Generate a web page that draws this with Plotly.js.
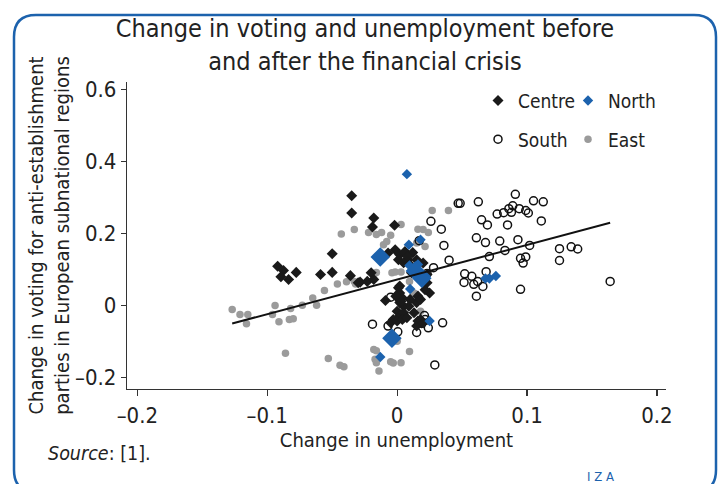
<!DOCTYPE html>
<html>
<head>
<meta charset="utf-8">
<script src="https://cdn.plot.ly/plotly-3.0.1.min.js"></script>
<style>
html,body{margin:0;padding:0;background:#fff;}
#chart{width:719px;height:484px;}
</style>
</head>
<body>
<div id="chart"></div>
<script>
// ---- data ----
const centreX = [-0.035,-0.035,-0.018,-0.019,-0.002,-0.050,-0.092,-0.0875,-0.0895,-0.0836,-0.0777,-0.059,-0.050,-0.036,-0.0285,-0.020,-0.023,-0.018,-0.013,-0.007,-0.0015,0.002,0.006,0.001,0.012,0.015,0.0085,0.005,0.020,0.011,0.023,0.023,0.025,-0.030,
  0.001,0.002,0.004,0.002,0.005,0.000,0.002,-0.003,-0.005,0.000,0.005,0.009,0.013,0.015,0.016,0.018,0.016,0.019,0.015,0.002,0.004,0.0075,0.010,0.018,0.020,0.0215,0.003,-0.001,0.008,0.010,-0.009];
const centreY = [0.304,0.256,0.242,0.217,0.222,0.143,0.108,0.096,0.079,0.071,0.091,0.085,0.091,0.082,0.064,0.090,0.066,0.071,0.143,0.145,0.154,0.140,0.149,0.126,0.146,0.126,0.126,0.118,0.117,0.090,0.085,0.062,0.034,0.062,
  0.048,0.034,0.020,0.007,-0.003,-0.017,-0.030,-0.040,-0.049,-0.044,-0.021,-0.003,-0.021,0.007,0.025,0.016,-0.044,-0.049,-0.058,0.053,-0.040,-0.035,0.016,-0.040,-0.049,0.043,0.011,0.025,0.135,0.112,0.013];

const northX = [0.010,0.0075,0.009,0.018,0.0095,0.016,0.010,-0.013,0.025,0.068,0.071,0.076,0.022];
const northY = [0.630,0.364,0.168,0.182,0.110,0.113,0.045,-0.144,-0.044,0.074,0.074,0.081,0.080];
// larger (more populous) North regions
const northBigX = [-0.013,0.019,0.014,-0.004];
const northBigY = [0.134,0.075,0.095,-0.092];

const southX = [-0.019,-0.005,-0.007,0.0005,0.015,0.021,0.0215,0.024,0.035,0.029,0.026,0.034,0.047,0.036,0.017,0.040,0.028,0.023,0.019,
  0.091,0.0485,0.0625,0.105,0.1125,0.077,0.082,0.086,0.089,0.094,0.099,0.101,0.088,0.065,0.0695,0.085,0.111,0.061,0.068,0.079,0.093,0.102,0.083,0.071,0.095,0.099,0.097,0.125,0.134,0.139,0.125,0.164,0.052,0.0575,0.062,0.059,0.0515,0.066,0.0685,0.061,0.095];
const southY = [-0.053,0.022,-0.058,-0.074,-0.076,-0.029,-0.040,-0.063,-0.049,-0.166,0.233,0.211,0.283,0.166,0.179,0.125,0.104,0.088,-0.051,
  0.308,0.283,0.287,0.290,0.287,0.253,0.257,0.268,0.276,0.268,0.263,0.256,0.258,0.237,0.223,0.223,0.234,0.187,0.174,0.178,0.182,0.166,0.152,0.135,0.130,0.134,0.117,0.157,0.162,0.156,0.124,0.066,0.087,0.080,0.066,0.058,0.063,0.052,0.093,0.025,0.044];

const eastX = [-0.127,-0.121,-0.115,-0.116,-0.096,-0.094,-0.091,-0.082,-0.083,-0.080,-0.073,-0.065,-0.062,-0.056,-0.046,-0.039,-0.033,-0.032,-0.016,-0.018,-0.004,-0.0015,-0.043,-0.033,-0.022,-0.016,-0.012,-0.005,0.003,-0.0105,-0.008,0.027,0.0395,0.016,0.020,0.024,0.015,0.0215,
  -0.086,-0.053,-0.044,-0.041,-0.018,-0.016,-0.017,-0.016,-0.014,-0.005,-0.003,0.003,0.0095,0.000,0.018,0.0095,0.013,0.003];
const eastY = [-0.012,-0.026,-0.026,-0.052,-0.026,-0.001,-0.046,-0.009,-0.040,-0.038,0.000,0.020,0.000,0.041,0.059,0.065,0.066,0.059,0.091,0.074,0.090,0.092,0.198,0.210,0.202,0.196,0.202,0.194,0.224,0.168,0.177,0.263,0.263,0.211,0.210,0.202,0.173,0.163,
  -0.134,-0.148,-0.167,-0.171,-0.123,-0.127,-0.150,-0.160,-0.183,-0.157,-0.161,-0.160,-0.129,-0.100,-0.017,0.066,0.034,0.092];

// fitted line end points
const fitX = [-0.127, 0.164];
const fitY = [-0.051, 0.229];

const xTickVals = [-0.2,-0.1,0,0.1,0.2];
const xTickText = ['\u20130.2','\u20130.1','0','0.1','0.2'];
const yTickVals = [-0.2,0,0.2,0.4,0.6];
const yTickText = ['\u20130.2','0','0.2','0.4','0.6'];

// ---- layout helpers ----
const W = 719, H = 484;
const M = {l:127, r:53, t:82, b:95};
const pw = W - M.l - M.r, ph = H - M.t - M.b;
const fx = px => (px - M.l) / pw;
const fy = py => (H - M.b - py) / ph;

const FONT = '"Liberation Sans Narrow", "DejaVu Sans Condensed", "Arial Narrow", sans-serif';
const BLUE = '#1c62ad';

// rounded frame
const bx0=14, bx1=716, by0=15, by1=492, r=22;
const framePath = [
  'M', fx(bx0+r), fy(by0),
  'L', fx(bx1-r), fy(by0),
  'Q', fx(bx1), fy(by0), fx(bx1), fy(by0+r),
  'L', fx(bx1), fy(by1-r),
  'Q', fx(bx1), fy(by1), fx(bx1-r), fy(by1),
  'L', fx(bx0+r), fy(by1),
  'Q', fx(bx0), fy(by1), fx(bx0), fy(by1-r),
  'L', fx(bx0), fy(by0+r),
  'Q', fx(bx0), fy(by0), fx(bx0+r), fy(by0), 'Z'
].join(' ');

const traces = [
  {x:eastX, y:eastY, name:'East', type:'scatter', mode:'markers', legend:'legend2', legendrank:2,
   marker:{symbol:'circle', size:7.5, color:'#9b9b9b'}},
  {x:southX, y:southY, name:'South', type:'scatter', mode:'markers', legend:'legend2', legendrank:1,
   marker:{symbol:'circle-open', size:8, color:'#111', line:{width:1.5, color:'#111'}}},
  {x:centreX, y:centreY, name:'Centre', type:'scatter', mode:'markers', legend:'legend', legendrank:1,
   marker:{symbol:'diamond', size:8.5, color:'#1a1a1a'}},
  {x:northX, y:northY, name:'North', type:'scatter', mode:'markers', legend:'legend', legendrank:2, cliponaxis:false,
   marker:{symbol:'diamond', size:8, color:BLUE}},
  {x:northBigX, y:northBigY, name:'North', type:'scatter', mode:'markers', showlegend:false,
   marker:{symbol:'diamond', size:15, color:BLUE}},
  {x:fitX, y:fitY, type:'scatter', mode:'lines', showlegend:false, hoverinfo:'skip',
   line:{color:'#111', width:2}}
];

const axisCommon = {
  showgrid:false, zeroline:false, showline:true, linecolor:'#333', linewidth:1.2,
  ticks:'outside', ticklen:6, tickwidth:1.2, tickcolor:'#333',
  tickfont:{family:FONT, size:22, color:'#222'}, automargin:false
};

const layout = {
  width:W, height:H, margin:M,
  paper_bgcolor:'#fff', plot_bgcolor:'#fff',
  font:{family:FONT, color:'#222'},
  showlegend:true,
  title:{text:'Change in voting and unemployment before<br>and after the financial crisis',
    font:{family:FONT, size:25, color:'#222'}, x:365/W, xanchor:'center', y:1-37/H, yanchor:'middle'},
  xaxis:Object.assign({}, axisCommon, {
    range:[-0.208, 0.207], tickvals:xTickVals, ticktext:xTickText,
    title:{text:'Change in unemployment', font:{family:FONT, size:20, color:'#222'}, standoff:6}
  }),
  yaxis:Object.assign({}, axisCommon, {
    range:[-0.233, 0.62], tickvals:yTickVals, ticktext:yTickText, ticklen:5,
    title:{text:'Change in voting for anti-establishment<br>parties in European subnational regions',
      font:{family:FONT, size:20, color:'#222'}, standoff:0}
  }),
  legend:{orientation:'h', x:fx(478), xanchor:'left', y:fy(100.7), yanchor:'middle',
    bgcolor:'rgba(0,0,0,0)', font:{family:FONT, size:19, color:'#222'}, itemsizing:'trace',
    entrywidth:45, entrywidthmode:'pixels', traceorder:'normal'},
  legend2:{orientation:'h', x:fx(478), xanchor:'left', y:fy(139.3), yanchor:'middle',
    bgcolor:'rgba(0,0,0,0)', font:{family:FONT, size:19, color:'#222'}, itemsizing:'trace',
    entrywidth:45, entrywidthmode:'pixels', traceorder:'normal'},
  shapes:[{type:'path', xref:'paper', yref:'paper', path:framePath, layer:'below',
    line:{color:BLUE, width:2.5}, fillcolor:'rgba(0,0,0,0)'}],
  annotations:[
    {text:'<i>Source</i>: [1].', xref:'paper', yref:'paper', x:fx(46), y:fy(453),
     xanchor:'left', yanchor:'middle', showarrow:false, font:{family:FONT, size:19.5, color:'#222'}},
    {text:'I Z A', xref:'paper', yref:'paper', x:fx(600), y:fy(476), xanchor:'center', yanchor:'middle',
     showarrow:false, font:{family:FONT, size:13, color:BLUE}}
  ]
};

Plotly.newPlot('chart', traces, layout, {displayModeBar:false, staticPlot:true});
</script>
</body>
</html>
